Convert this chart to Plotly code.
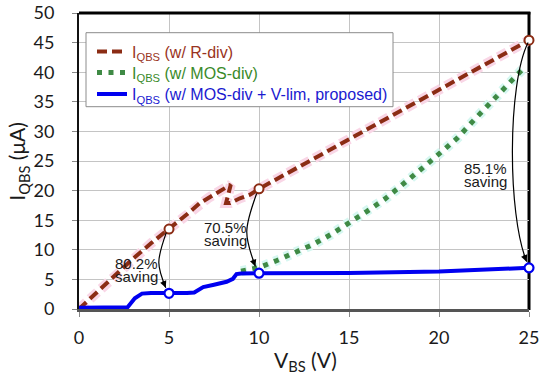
import plotly.graph_objects as go

# ---------------- data ----------------
r_x = [0, 1, 2, 3, 4, 5, 6, 6.72, 7.18, 7.93, 8.43, 8.17, 8.4, 8.94, 9.5, 10, 15, 20, 25]
r_y = [0, 2.9, 5.8, 8.5, 11.1, 13.5, 16.0, 17.9, 18.75, 20.15, 21.0, 17.9, 17.9, 18.7, 19.3, 20.3, 28.7, 37.0, 45.4]

g_x = [9.0, 10, 11, 12, 13, 14, 15, 16, 17, 18, 19, 20, 21, 22, 23, 24, 24.8]
g_y = [6.4, 7.0, 8.2, 9.5, 10.9, 12.6, 14.5, 16.5, 18.6, 21.0, 23.6, 26.2, 28.8, 32.1, 35.2, 38.4, 41.0]

b_x = [0, 1, 2, 2.7, 3.1, 3.5, 4, 5, 6, 6.4, 6.9, 7.5, 8.2, 8.55, 8.75, 9, 10, 15, 20, 25]
b_y = [0.2, 0.2, 0.2, 0.3, 1.8, 2.6, 2.7, 2.65, 2.7, 2.8, 3.7, 4.1, 4.6, 5.1, 5.9, 6.0, 6.05, 6.1, 6.35, 6.95]

mark_x = [5, 10, 25]
r_mark_y = [13.5, 20.3, 45.4]
b_mark_y = [2.65, 6.05, 6.95]

savings = ["80.2%", "70.5%", "85.1%"]

x_ticks = [0, 5, 10, 15, 20, 25]
y_ticks = [0, 5, 10, 15, 20, 25, 30, 35, 40, 45, 50]

RED = "#8b2c14"
GREEN = "#3f8a45"
BLUE = "#0000f0"

L, T, W, H = 79, 13, 450, 296   # plot area: x 79..529, y 13..309
PLOT_X0, PLOT_Y1 = 79, 309.3


def px_x(px):
    return (px - PLOT_X0) / W


def px_y(py):
    return (PLOT_Y1 - py) / H


fig = go.Figure()

# halos (glow seen around the lines in the reference)
fig.add_trace(go.Scatter(x=r_x, y=r_y, mode="lines", showlegend=False, hoverinfo="skip",
                         line=dict(color="#f9d6e6", width=10, dash="10px,5px")))
fig.add_trace(go.Scatter(x=g_x, y=g_y, mode="lines", showlegend=False, hoverinfo="skip",
                         line=dict(color="#d6f7f1", width=10, dash="6px,5.5px")))

fig.add_trace(go.Scatter(
    x=r_x, y=r_y, mode="lines", legend="legend",
    name='<span style="color:#993322">I<sub>QBS</sub> (w/ R-div)</span>',
    line=dict(color=RED, width=4, dash="10px,5px")))
fig.add_trace(go.Scatter(
    x=g_x, y=g_y, mode="lines", legend="legend2",
    name='<span style="color:#3a8a2a">I<sub>QBS</sub> (w/ MOS-div)</span>',
    line=dict(color=GREEN, width=5, dash="5px,6.5px")))
fig.add_trace(go.Scatter(
    x=b_x, y=b_y, mode="lines", legend="legend3",
    name='<span style="color:#1a1ad0">I<sub>QBS</sub> (w/ MOS-div + V-lim, proposed)</span>',
    line=dict(color=BLUE, width=4)))

fig.add_trace(go.Scatter(x=mark_x, y=r_mark_y, mode="markers", showlegend=False, cliponaxis=False,
                         marker=dict(symbol="circle", size=9, color="white",
                                     line=dict(color=RED, width=2))))
fig.add_trace(go.Scatter(x=mark_x, y=b_mark_y, mode="markers", showlegend=False, cliponaxis=False,
                         marker=dict(symbol="circle", size=9, color="white",
                                     line=dict(color=BLUE, width=2.2))))

# curved arrows (red point -> blue point)
PXX = W / 25.0
PXY = H / 50.0
arrows = [
    # start, control1, control2, end
    ((4.85, 12.9), (4.3, 8.2), (4.3, 7.4), (4.82, 3.6)),
    ((9.87, 19.5), (9.15, 13.5), (9.15, 12.5), (9.8, 7.2)),
    ((24.95, 45.0), (23.8, 38.0), (23.8, 16.0), (24.87, 8.0)),
]
shapes = []
annotations = []
for (p0, p1, p2, p3) in arrows:
    shapes.append(dict(type="path", xref="x", yref="y",
                       path=f"M {p0[0]},{p0[1]} C {p1[0]},{p1[1]} {p2[0]},{p2[1]} {p3[0]},{p3[1]}",
                       line=dict(color="black", width=1.2), layer="above"))
    dx = (p3[0] - p2[0]) * PXX
    dy = (p2[1] - p3[1]) * PXY
    n = (dx * dx + dy * dy) ** 0.5
    annotations.append(dict(x=p3[0], y=p3[1], xref="x", yref="y", text="", showarrow=True,
                            ax=-dx / n * 9, ay=-dy / n * 9, arrowhead=2, arrowsize=1.1,
                            arrowwidth=1.2, arrowcolor="black", standoff=0))

# saving labels (two lines each), positions in window pixels
label_pos = [(136.5, 263.5), (225.7, 227.5), (485.0, 168.5)]
for txt, (px, py) in zip(savings, label_pos):
    for k, line in enumerate([txt, "saving"]):
        annotations.append(dict(x=px_x(px), y=px_y(py + 13.4 * k),
                                xref="paper", yref="paper", text=line, showarrow=False,
                                xanchor="center", yanchor="middle",
                                font=dict(family="Liberation Sans, Arial", size=15, color="#1a1a1a")))

# axis titles
annotations.append(dict(x=px_x(305), y=px_y(361), xref="paper", yref="paper",
                        text="V<sub>BS</sub> (V)", showarrow=False, xanchor="center", yanchor="middle",
                        font=dict(family="Lato", size=21, color="#1a1a1a")))
annotations.append(dict(x=px_x(18), y=px_y(162), xref="paper", yref="paper",
                        text="I<sub>QBS</sub> (μA)", showarrow=False, xanchor="center", yanchor="middle",
                        textangle=-90, font=dict(family="Lato", size=21, color="#1a1a1a")))

# plot-area border on top and right
shapes.append(dict(type="line", xref="paper", yref="paper", x0=0, x1=1.003, y0=1, y1=1,
                   line=dict(color="black", width=3), layer="above"))
shapes.append(dict(type="line", xref="paper", yref="paper", x0=1, x1=1, y0=-0.003, y1=1.003,
                   line=dict(color="black", width=3), layer="below"))

# legend frame (one box around the three legend rows)
shapes.append(dict(type="rect", xref="paper", yref="paper",
                   x0=px_x(86), x1=px_x(393), y0=px_y(107), y1=px_y(33),
                   fillcolor="white", line=dict(color="#8c8c8c", width=1), layer="above"))

legend_rows = [52, 73, 94.5]
legend_common = dict(xanchor="left", yanchor="middle", bgcolor="rgba(0,0,0,0)", borderwidth=0,
                     font=dict(family="Liberation Sans, Arial", size=16), itemwidth=30)

fig.update_layout(
    width=550, height=381,
    margin=dict(l=L, r=550 - L - W, t=T, b=381 - T - H, autoexpand=False),
    paper_bgcolor="white", plot_bgcolor="white",
    shapes=shapes, annotations=annotations,
    legend=dict(x=px_x(92), y=px_y(legend_rows[0]), **legend_common),
    legend2=dict(x=px_x(92), y=px_y(legend_rows[1]), **legend_common),
    legend3=dict(x=px_x(92), y=px_y(legend_rows[2]), **legend_common),
    xaxis=dict(range=[0, 25], tickvals=x_ticks, ticktext=[str(v) for v in x_ticks],
               automargin=False,
               showgrid=True, gridcolor="#c4c4c4", gridwidth=1, zeroline=False,
               showline=True, linecolor="#555555", linewidth=2.5,
               ticks="outside", ticklen=5, tickcolor="#888888", tickwidth=1,
               tickfont=dict(family="Lato", size=18, color="#1a1a1a"), ticklabelstandoff=6),
    yaxis=dict(range=[0, 50], tickvals=y_ticks, ticktext=[str(v) for v in y_ticks],
               automargin=False,
               showgrid=True, gridcolor="#c4c4c4", gridwidth=1, zeroline=False,
               showline=True, linecolor="#111111", linewidth=2,
               ticks="outside", ticklen=5, tickcolor="#888888", tickwidth=1,
               tickfont=dict(family="Lato", size=18, color="#1a1a1a"), ticklabelstandoff=14),
    showlegend=True,
)

fig.write_html("out.html", config={"displayModeBar": False},
               post_script="document.body.style.margin='0px';document.body.style.overflow='hidden';")
